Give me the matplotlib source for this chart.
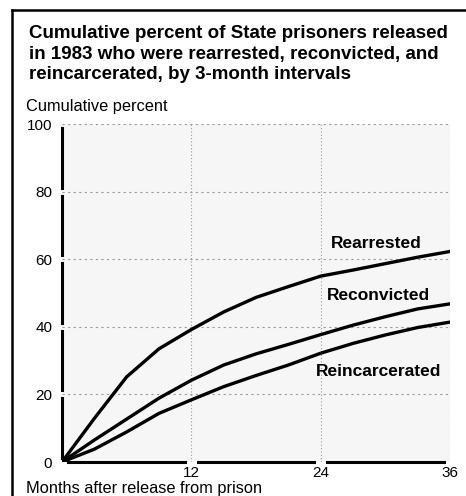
import matplotlib.pyplot as plt
from matplotlib.lines import Line2D

# Data
months = [0, 3, 6, 9, 12, 15, 18, 21, 24, 27, 30, 33, 36]
rearrested = [0, 12.9, 25.2, 33.5, 39.2, 44.4, 48.7, 51.9, 55.0, 56.8, 58.7, 60.6, 62.3]
reconvicted = [0, 6.5, 12.7, 18.9, 24.2, 28.7, 32.0, 34.8, 37.7, 40.5, 43.0, 45.3, 46.8]
reincarcerated = [0, 3.8, 8.9, 14.4, 18.4, 22.3, 25.6, 28.7, 32.2, 35.1, 37.6, 39.8, 41.4]

x_ticks = [12, 24, 36]
y_ticks = [0, 20, 40, 60, 80, 100]

plt.rcParams['font.family'] = ['Liberation Sans', 'DejaVu Sans']

fig = plt.figure(figsize=(4.66, 4.96), dpi=100)
ax = fig.add_axes([0.133, 0.0685, 0.833, 0.6815])
ax.set_facecolor('#f6f6f6')

# Frame around the figure (top and left only)
fig.add_artist(Line2D([12 / 466, 12 / 466], [0, 1 - 10 / 496], color='black', lw=1.8))
fig.add_artist(Line2D([12 / 466, 1], [1 - 10 / 496, 1 - 10 / 496], color='black', lw=1.8))

# Dotted grid
for xv in [12, 24, 36]:
    ax.axvline(xv, color='#9a9a9a', lw=0.8, ls=(0, (1, 2)), zorder=1)
for yv in [20, 40, 60, 80, 100]:
    ax.axhline(yv, color='#9a9a9a', lw=0.8, ls=(0, (2, 3)), zorder=1)

# Curves
for series in [rearrested, reconvicted, reincarcerated]:
    ax.plot(months, series, color='black', lw=2.4, solid_capstyle='round',
            solid_joinstyle='round', zorder=3)

# Broken axis lines, gaps at the tick values
for lo in [0, 20, 40, 60, 80]:
    ax.plot([0, 0], [lo + 1.2, lo + 18.8], color='black', lw=2.2, clip_on=False, zorder=4)
for lo in [0, 12, 24]:
    ax.plot([lo + 0.6, lo + 11.4], [0, 0], color='black', lw=2.2, clip_on=False, zorder=4)

for s in ax.spines.values():
    s.set_visible(False)

ax.set_xlim(0, 36)
ax.set_ylim(0, 100)
ax.set_xticks(x_ticks)
ax.set_yticks(y_ticks)
ax.tick_params(length=0, labelsize=11, pad=3)
ax.tick_params(axis='y', pad=7)

# Series labels
ax.text(33.4, 63.3, 'Rearrested', fontsize=12.5, fontweight='bold', ha='right', va='baseline')
ax.text(34.1, 47.9, 'Reconvicted', fontsize=12.5, fontweight='bold', ha='right', va='baseline')
ax.text(35.2, 25.4, 'Reincarcerated', fontsize=12.5, fontweight='bold', ha='right', va='baseline')

# Titles
fig.text(29 / 466, 1 - 25 / 496,
         'Cumulative percent of State prisoners released\n'
         'in 1983 who were rearrested, reconvicted, and\n'
         'reincarcerated, by 3-month intervals',
         fontsize=13.5, fontweight='bold', ha='left', va='top', linespacing=1.28)
fig.text(26 / 466, 1 - 106 / 496, 'Cumulative percent', fontsize=11.8, ha='left', va='center')
fig.text(26 / 466, 1 - 488 / 496, 'Months after release from prison', fontsize=11.8, ha='left', va='center')

fig.savefig('out.png', dpi=100)
